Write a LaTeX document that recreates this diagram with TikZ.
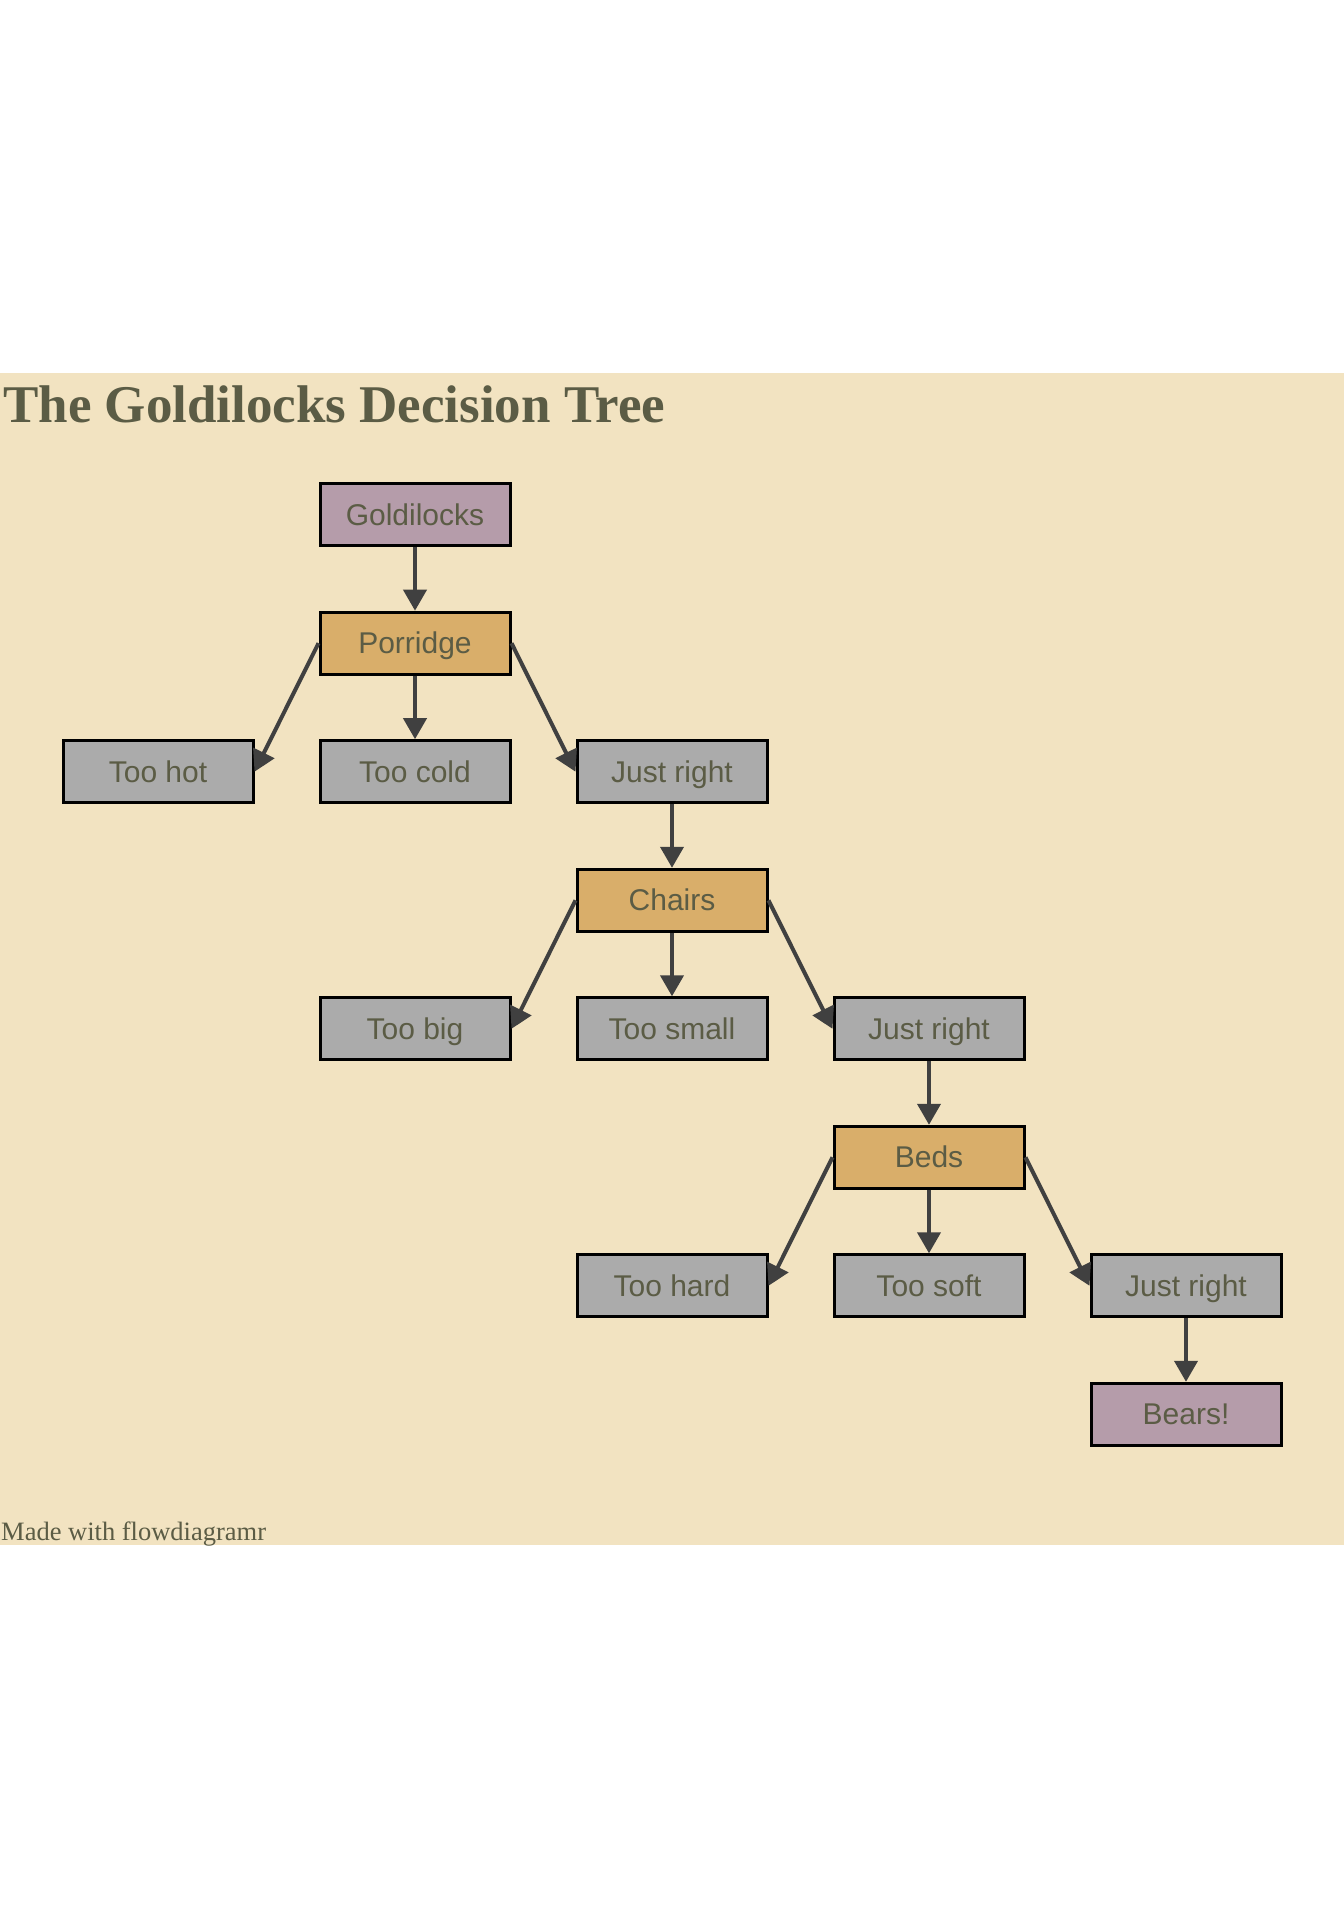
\documentclass[tikz,border=0pt]{standalone}
\usepackage{fontspec}
\setmainfont{Liberation Serif}
\newfontfamily\boxfont{Liberation Sans}
\usetikzlibrary{arrows.meta}
\definecolor{bandbg}{HTML}{F2E3C1}
\definecolor{mauve}{HTML}{B59CAA}
\definecolor{orangebox}{HTML}{D9AE6A}
\definecolor{greybox}{HTML}{ABABAB}
\definecolor{txt}{HTML}{5B5C45}
\definecolor{arrowcol}{HTML}{404040}
\begin{document}
\begin{tikzpicture}[x=1pt,y=-1pt,
  box/.style={draw=black, line width=3pt, minimum width=190pt, minimum height=62pt, inner sep=0pt,
    text height=21pt, text depth=0pt,
    font=\boxfont\fontsize{30}{34}\selectfont, text=txt},
  endbox/.style={box, fill=mauve},
  catbox/.style={box, fill=orangebox},
  optbox/.style={box, fill=greybox},
  arr/.style={draw=arrowcol, line width=4pt, -{Triangle[length=21pt,width=23pt]}}]
\useasboundingbox[fill=white] (0,0) rectangle (1344,1920);
\fill[bandbg] (0,373) rectangle (1344,1545);
\node[anchor=base west, text=txt, font=\bfseries\fontsize{53}{60}\selectfont, inner sep=0pt] (title) at (3,422) {The Goldilocks Decision Tree};
\node[anchor=base west, text=txt, font=\fontsize{26.5}{30}\selectfont, inner sep=0pt] (foot) at (1,1540) {Made with flowdiagramr};
% columns 158, 415, 672, 929, 1186 ; rows 514.7 + k*128.5
\node[endbox] (g) at (415,514.7) {Goldilocks};
\node[catbox] (p) at (415,643.2) {Porridge};
\node[optbox] (th) at (158,771.7) {Too hot};
\node[optbox] (tc) at (415,771.7) {Too cold};
\node[optbox] (jr1) at (672,771.7) {Just right};
\node[catbox] (c) at (672,900.3) {Chairs};
\node[optbox] (tb) at (415,1028.8) {Too big};
\node[optbox] (ts) at (672,1028.8) {Too small};
\node[optbox] (jr2) at (929,1028.8) {Just right};
\node[catbox] (b) at (929,1157.3) {Beds};
\node[optbox] (thd) at (672,1285.8) {Too hard};
\node[optbox] (tsf) at (929,1285.8) {Too soft};
\node[optbox] (jr3) at (1186,1285.8) {Just right};
\node[endbox] (bears) at (1186,1414.3) {Bears!};
\draw[arr] (g.south) -- (p.north);
\draw[arr] (p.west) -- (th.east);
\draw[arr] (p.south) -- (tc.north);
\draw[arr] (p.east) -- (jr1.west);
\draw[arr] (jr1.south) -- (c.north);
\draw[arr] (c.west) -- (tb.east);
\draw[arr] (c.south) -- (ts.north);
\draw[arr] (c.east) -- (jr2.west);
\draw[arr] (jr2.south) -- (b.north);
\draw[arr] (b.west) -- (thd.east);
\draw[arr] (b.south) -- (tsf.north);
\draw[arr] (b.east) -- (jr3.west);
\draw[arr] (jr3.south) -- (bears.north);
\end{tikzpicture}
\end{document}
